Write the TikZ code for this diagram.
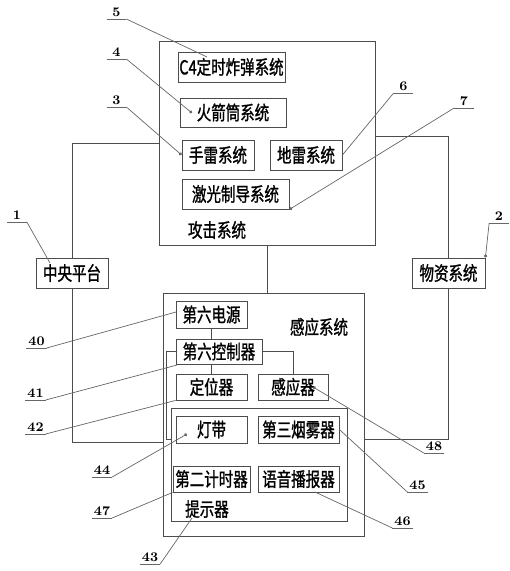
\documentclass[tikz,border=0pt]{standalone}
\usepackage{fontspec}
\newfontfamily\cjk[FakeStretch=0.75,FakeBold=1.2]{Noto Sans CJK SC}
\usetikzlibrary{arrows.meta,calc}

\begin{document}
\begin{tikzpicture}[x=0.02cm,y=-0.02cm,
    every node/.style={font=\cjk\fontsize{11}{13}\selectfont},
    blk/.style={draw=black!70,line width=0.5pt,inner sep=0pt},
    lbl/.style={inner sep=0pt},
    num/.style={font=\fontsize{7.5}{8}\selectfont\bfseries,minimum width=0.38cm,inner sep=1pt,anchor=south},
    ln/.style={draw=black!70,line width=0.5pt},
    lead/.style={draw=black!60,line width=0.4pt},
    leaddot/.style={lead,-{Circle[length=1.8pt]}}
  ]
  \useasboundingbox (0,0) rectangle (510,571);
  % attack system
  \node[blk,minimum width=4.32cm,minimum height=4.08cm] (atk) at (267,143) {};
  \node[blk,minimum width=2.14cm,minimum height=0.6cm] (c4) at (231.5,67) {C4定时炸弹系统};
  \node[blk,minimum width=2.12cm,minimum height=0.58cm] (rpg) at (233,112.5) {火箭筒系统};
  \node[blk,minimum width=1.44cm,minimum height=0.6cm] (gren) at (218,155) {手雷系统};
  \node[blk,minimum width=1.44cm,minimum height=0.6cm] (mine) at (306,155) {地雷系统};
  \node[blk,minimum width=2.14cm,minimum height=0.6cm] (laser) at (235.5,194) {激光制导系统};
  \node[lbl] (atkname) at (217,230) {攻击系统};
  % platform and supplies
  \node[blk,minimum width=1.44cm,minimum height=0.6cm] (cp) at (72,273) {中央平台};
  \node[blk,minimum width=1.46cm,minimum height=0.6cm] (ws) at (448.5,273) {物资系统};
  % sensing system
  \node[blk,minimum width=4.02cm,minimum height=4.86cm] (sense) at (263.5,414.5) {};
  \node[lbl] (sensename) at (319,327) {感应系统};
  \node[blk,minimum width=1.42cm,minimum height=0.54cm] (pw) at (211.5,314.5) {第六电源};
  \node[blk,minimum width=1.72cm,minimum height=0.5cm] (ctl) at (219,351.5) {第六控制器};
  \node[blk,minimum width=1.42cm,minimum height=0.52cm] (loc) at (211.5,387) {定位器};
  \node[blk,minimum width=1.40cm,minimum height=0.52cm] (sen) at (293,387) {感应器};
  % prompter
  \node[blk,minimum width=3.52cm,minimum height=2.26cm] (tip) at (259,464.5) {};
  \node[lbl] (tipname) at (207,509) {提示器};
  \node[blk,minimum width=1.42cm,minimum height=0.54cm] (led) at (211.5,429.5) {灯带};
  \node[blk,minimum width=1.62cm,minimum height=0.54cm] (smoke) at (298.5,429.5) {第三烟雾器};
  \node[blk,minimum width=1.54cm,minimum height=0.52cm] (tmr) at (211.5,479) {第二计时器};
  \node[blk,minimum width=1.62cm,minimum height=0.52cm] (voice) at (298.5,479) {语音播报器};
  % wiring
  \draw[ln] (atk.west) -| (cp.north);
  \draw[ln] ($(atk.east)+(0,-7)$) -| (ws.north);
  \draw[ln] (cp.south) |- ($(sense.west)+(0,27.5)$);
  \draw[ln] (ws.south) |- ($(sense.east)+(0,24.5)$);
  \draw[ln] (atk.south) -- (atk.south |- sense.north);
  \draw[ln] (pw.south) -- (pw.south |- ctl.north);
  \draw[ln] (loc.north) -- (loc.north |- ctl.south);
  \draw[ln] (ctl.east) -| (sen.north);
  \draw[ln] (ctl.west) -- ++(-9,0) |- ($(tip.west)+(0,-25.5)$);
  % leader targets
  \coordinate (t5) at (207,57);
  \coordinate (t4) at (192,113);
  \coordinate (t1) at (50,263);
  \coordinate (t40) at (176,312);
  \coordinate (t41) at (177,365);
  \coordinate (t44) at (187,434);
  \coordinate (t43) at (192,518);
  \coordinate (t48) at (313,387);
  \coordinate (t46) at (315,492);
  % reference numbers
  \node[num] (n5) at (116.5,19) {5};
  \node[num] (n4) at (116.5,59) {4};
  \node[num] (n3) at (116.5,107) {3};
  \node[num] (n6) at (403.5,93) {6};
  \node[num] (n7) at (464,108) {7};
  \node[num] (n1) at (17,222) {1};
  \node[num] (n2) at (499,223) {2};
  \node[num] (n40) at (36.5,348) {40};
  \node[num] (n41) at (35.5,400) {41};
  \node[num] (n42) at (35.5,434) {42};
  \node[num] (n44) at (102,477) {44};
  \node[num] (n47) at (102,518) {47};
  \node[num] (n43) at (150,564) {43};
  \node[num] (n48) at (434,453) {48};
  \node[num] (n45) at (417.5,492) {45};
  \node[num] (n46) at (402.5,528) {46};
  % leaders
  \foreach \n in {5,4,3,6,7,1,2,40,41,42,44,47,43,48,45,46}
    \draw[lead] (n\n.south west) -- (n\n.south east);
  \draw[lead] (n5.south east) -- (t5);
  \draw[leaddot] (n4.south east) -- (t4);
  \draw[leaddot] (n3.south east) -- (gren.west);
  \draw[lead] (n6.south west) -- (mine.east);
  \draw[leaddot] (n7.south west) -- (laser.south east);
  \draw[lead] (n1.south east) -- (t1);
  \draw[leaddot] (n2.south west) -- (ws.north east);
  \draw[lead] (n40.south east) -- (t40);
  \draw[lead] (n41.south east) -- (t41);
  \draw[lead] (n42.south east) -- (loc.south west);
  \draw[leaddot] (n44.south east) -- (t44);
  \draw[lead] (n47.south east) -- (tmr.south west);
  \draw[lead] (n43.south east) -- (t43);
  \draw[leaddot] (n48.south west) -- (t48);
  \draw[lead] (n45.south west) -- (smoke.east);
  \draw[lead] (n46.south west) -- (t46);
\end{tikzpicture}
\end{document}
